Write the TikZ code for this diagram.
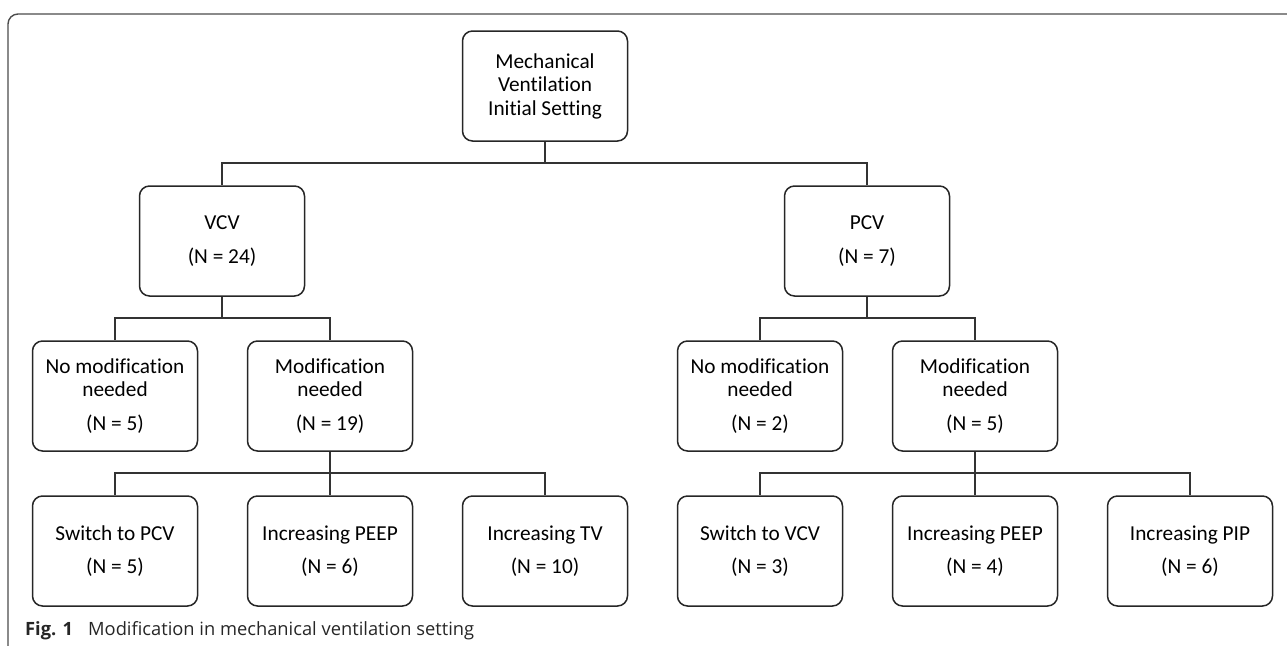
\documentclass[tikz,border=0pt]{standalone}
\usepackage{fontspec}
\setmainfont{Carlito}[Ligatures=CommonOff]
\newfontfamily\capfont{Open Sans}
\begin{document}
\begin{tikzpicture}[x=1pt,y=-1pt,
  box/.style={draw=black!85,line width=1.5pt,rounded corners=10pt,minimum width=165pt,minimum height=110pt,align=center,font=\fontsize{21.3}{23.5}\selectfont,inner sep=2pt},
  conn/.style={draw=black!80,line width=1.3pt},
  frame/.style={draw=black!70,line width=1.4pt,rounded corners=10pt},
  captext/.style={anchor=base west,inner sep=0pt,font=\capfont\fontsize{18.3}{20}\selectfont,text=black!85}]
\useasboundingbox (0,0) rectangle (1287,645);
\draw[frame] (8,646) -- (8,14) -- (1288,14);
\node[box] (root) at (545,86) {Mechanical\\Ventilation\\Initial Setting};
\node[box] (vcv) at (222,241) {VCV\\[10pt](N = 24)};
\node[box] (pcv) at (867,241) {PCV\\[10pt](N = 7)};
\node[box] (vno) at (115,396) {No modification\\needed\\[10pt](N = 5)};
\node[box] (vmod) at (330,396) {Modification\\needed\\[10pt](N = 19)};
\node[box] (pno) at (760,396) {No modification\\needed\\[10pt](N = 2)};
\node[box] (pmod) at (975,396) {Modification\\needed\\[10pt](N = 5)};
\node[box] (v1) at (115,551) {Switch to PCV\\[10pt](N = 5)};
\node[box] (v2) at (330,551) {Increasing PEEP\\[10pt](N = 6)};
\node[box] (v3) at (545,551) {Increasing TV\\[10pt](N = 10)};
\node[box] (p1) at (760,551) {Switch to VCV\\[10pt](N = 3)};
\node[box] (p2) at (975,551) {Increasing PEEP\\[10pt](N = 4)};
\node[box] (p3) at (1190,551) {Increasing PIP\\[10pt](N = 6)};
\coordinate (j0) at (545,163);
\coordinate (j1) at (222,318);
\coordinate (j2) at (867,318);
\coordinate (j3) at (330,473);
\coordinate (j4) at (975,473);
\draw[conn] (root.south) -- (j0);
\draw[conn] (j0) -| (vcv.north);
\draw[conn] (j0) -| (pcv.north);
\draw[conn] (vcv.south) -- (j1);
\draw[conn] (j1) -| (vno.north);
\draw[conn] (j1) -| (vmod.north);
\draw[conn] (pcv.south) -- (j2);
\draw[conn] (j2) -| (pno.north);
\draw[conn] (j2) -| (pmod.north);
\draw[conn] (vmod.south) -- (v2.north);
\draw[conn] (j3) -| (v1.north);
\draw[conn] (j3) -| (v3.north);
\draw[conn] (pmod.south) -- (p2.north);
\draw[conn] (j4) -| (p1.north);
\draw[conn] (j4) -| (p3.north);
\node[captext] (figlab) at (25,635) {\textbf{Fig. 1}};
\node[captext] (cap) at (88,635) {Modification in mechanical ventilation setting};
\end{tikzpicture}
\end{document}
